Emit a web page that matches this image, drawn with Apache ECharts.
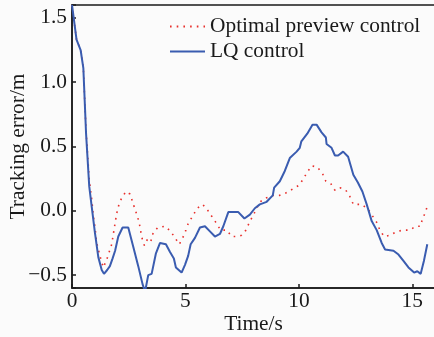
<!DOCTYPE html>
<html>
<head>
<meta charset="utf-8">
<script src="https://cdn.jsdelivr.net/npm/echarts@6/dist/echarts.min.js"></script>
<style>
  html, body { margin: 0; padding: 0; background: #fbfbfb; }
  #chart { width: 434px; height: 337px; }
</style>
</head>
<body>
<div id="chart"></div>
<script>
// LQ control (blue solid)
const lqTime = [0.0, 0.2, 0.38, 0.5, 0.62, 0.76, 0.87, 1.01, 1.16, 1.31, 1.41, 1.55, 1.67, 1.79, 1.9,
  2.04, 2.23, 2.48, 2.7, 2.92, 3.11, 3.22, 3.36, 3.51, 3.7, 3.88, 4.14, 4.32, 4.49, 4.58, 4.83,
  4.98, 5.12, 5.23, 5.42, 5.64, 5.86, 6.08, 6.3, 6.52, 6.67, 6.89, 7.33, 7.6, 7.84, 8.06, 8.28,
  8.58, 8.85, 8.91, 9.16, 9.38, 9.6, 9.9, 10.04, 10.11, 10.37, 10.6, 10.78, 11.0, 11.19, 11.22,
  11.44, 11.59, 11.73, 11.95, 12.17, 12.4, 12.6, 12.8, 12.99, 13.21, 13.43, 13.65, 13.8, 14.17,
  14.39, 14.61, 14.83, 15.08, 15.22, 15.37, 15.51, 15.66];
const lqError = [1.6, 1.33, 1.25, 1.11, 0.6, 0.19, 0.03, -0.17, -0.36, -0.46, -0.49, -0.46, -0.43, -0.37, -0.31,
  -0.2, -0.13, -0.13, -0.28, -0.43, -0.57, -0.63, -0.5, -0.49, -0.33, -0.25, -0.26, -0.32, -0.37, -0.44, -0.48,
  -0.42, -0.35, -0.26, -0.21, -0.13, -0.12, -0.16, -0.2, -0.18, -0.12, -0.01, -0.01, -0.06, -0.03, 0.02, 0.05,
  0.07, 0.12, 0.18, 0.23, 0.31, 0.41, 0.46, 0.49, 0.54, 0.6, 0.67, 0.67, 0.61, 0.57, 0.52,
  0.49, 0.43, 0.43, 0.46, 0.42, 0.28, 0.22, 0.15, 0.05, -0.08, -0.15, -0.25, -0.3, -0.31,
  -0.34, -0.39, -0.44, -0.48, -0.47, -0.49, -0.39, -0.26];

// Optimal preview control (red dotted)
const optTime = [0.0, 0.2, 0.38, 0.5, 0.62, 0.76, 0.87, 0.94, 1.01, 1.09, 1.23, 1.38, 1.53, 1.75, 1.85,
  1.97, 2.07, 2.19, 2.38, 2.56, 2.67, 2.78, 2.88, 2.97, 3.04, 3.11, 3.19, 3.33, 3.47, 3.58, 3.78,
  4.1, 4.35, 4.54, 4.73, 4.88, 5.02, 5.12, 5.32, 5.52, 5.76, 5.96, 6.15, 6.34, 6.55, 6.82, 7.04,
  7.29, 7.48, 7.67, 7.82, 8.0, 8.29, 8.55, 8.85, 9.14, 9.44, 9.73, 10.02, 10.2, 10.37, 10.56,
  10.81, 11.04, 11.19, 11.41, 11.59, 11.81, 12.07, 12.25, 12.4, 12.77, 13.06, 13.21, 13.43, 13.57,
  13.76, 14.01, 14.33, 14.6, 14.89, 15.15, 15.36, 15.45, 15.56, 15.65];
const optError = [1.6, 1.33, 1.25, 1.11, 0.62, 0.24, 0.09, -0.04, -0.12, -0.25, -0.35, -0.44, -0.38, -0.26, -0.15,
  -0.02, 0.05, 0.1, 0.15, 0.13, 0.07, 0.01, -0.04, -0.1, -0.17, -0.23, -0.27, -0.22, -0.24, -0.17, -0.13,
  -0.12, -0.16, -0.21, -0.26, -0.21, -0.15, -0.1, -0.04, 0.02, 0.05, 0.01, -0.04, -0.09, -0.15, -0.15, -0.2,
  -0.2, -0.19, -0.15, -0.09, -0.03, 0.07, 0.1, 0.12, 0.12, 0.14, 0.17, 0.2, 0.25, 0.3, 0.35,
  0.34, 0.29, 0.23, 0.21, 0.16, 0.18, 0.16, 0.11, 0.05, 0.05, 0.01, -0.03, -0.09, -0.15,
  -0.2, -0.19, -0.16, -0.15, -0.15, -0.12, -0.12, -0.06, -0.02, 0.03];

const seriesNames = ["Optimal preview control", "LQ control"];
const xTicks = [0, 5, 10, 15];
const yTicks = [-0.5, 0, 0.5, 1.0, 1.5];

const font = "'Liberation Serif', 'Times New Roman', serif";
const ink = "#1a1a1a";

const zip = (xs, ys) => xs.map((x, i) => [x, ys[i]]);
const fmtY = (v) => {
  const hit = yTicks.find((t) => Math.abs(t - v) < 1e-6);
  if (hit === undefined) return "";
  return hit.toFixed(1).replace("-", "\u2212");
};
const fmtX = (v) => (xTicks.includes(v) ? String(v) : "");

const chart = echarts.init(document.getElementById("chart"), null, { renderer: "canvas" });

chart.setOption({
  backgroundColor: "#fbfbfb",
  animation: false,
  grid: {
    left: 72, right: -1, top: 5, bottom: 49,
    outerBoundsMode: "none",
    containLabel: false,
    show: true, borderColor: ink, borderWidth: 1.5, backgroundColor: "transparent",
  },
  legend: {
    orient: "vertical",
    left: 164, top: 10,
    itemWidth: 35, itemHeight: 14, itemGap: 2,
    itemStyle: { opacity: 0 },
    textStyle: { fontFamily: font, fontSize: 21.4, color: ink, lineHeight: 23 },
    data: seriesNames,
  },
  xAxis: {
    type: "value",
    min: 0, max: 16, interval: 5,
    name: "Time/s",
    nameLocation: "middle",
    nameGap: 26,
    nameMoveOverlap: false,
    nameTextStyle: { fontFamily: font, fontSize: 21.4, color: ink },
    axisLine: { show: true, onZero: false, lineStyle: { color: ink, width: 1.5 } },
    axisTick: { show: true, inside: true, length: 4, lineStyle: { color: ink, width: 1.5 } },
    axisLabel: { fontFamily: font, fontSize: 21.4, color: ink, margin: 3, formatter: fmtX },
    splitLine: { show: false },
  },
  yAxis: {
    type: "value",
    min: -0.6, max: 1.6, splitNumber: 5,
    name: "Tracking error/m",
    nameLocation: "middle",
    nameGap: 43,
    nameMoveOverlap: false,
    nameTextStyle: { fontFamily: font, fontSize: 21.4, color: ink },
    axisLine: { show: true, onZero: false, lineStyle: { color: ink, width: 1.5 } },
    axisTick: { show: true, inside: true, length: 4, lineStyle: { color: ink, width: 1.5 } },
    axisLabel: { fontFamily: font, fontSize: 21.4, color: ink, margin: 5, formatter: fmtY },
    splitLine: { show: false },
  },
  series: [
    {
      name: seriesNames[0],
      type: "line",
      data: zip(optTime, optError),
      symbol: "none",
      color: "#e8302c",
      lineStyle: { color: "#e8302c", width: 1.6, type: [1.6, 5.1] },
    },
    {
      name: seriesNames[1],
      type: "line",
      data: zip(lqTime, lqError),
      symbol: "none",
      color: "#3a5cb0",
      lineStyle: { color: "#3a5cb0", width: 2 },
    },
  ],
});
</script>
</body>
</html>
